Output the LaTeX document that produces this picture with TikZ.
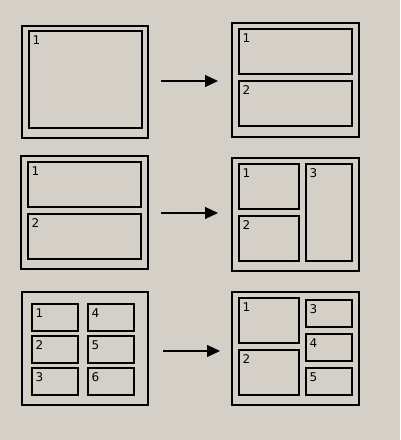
\documentclass[tikz,border=0pt]{standalone}
\usepackage{fontspec}
\setmainfont{DejaVu Sans}
\usepackage{xcolor}
\usetikzlibrary{arrows.meta}
\definecolor{winbg}{HTML}{D4D0C8}

% pane: name, x1, y1, x2, y2, label
\newcommand\pane[6]{%
  \node[frame, minimum width={#4-#2}, minimum height={#5-#3}] (#1) at ({(#2+#4)/2},{(#3+#5)/2}) {};
  \node[num] (#1-n) at (#1.north west) {#6};}

\begin{document}
\begin{tikzpicture}[x=1pt, y=-1pt,
    frame/.style={draw, line width=1.4pt, inner sep=0pt, outer sep=0pt},
    num/.style={anchor=north west, inner xsep=3.5pt, inner ysep=4.5pt, font=\fontsize{12}{14}\selectfont},
    arr/.style={line width=1.2pt, -{Triangle[length=13pt,width=12pt]}}]

    \fill[winbg] (0,0) rectangle (400,440);
    \useasboundingbox (0,0) rectangle (400,440);

    % row 1
    \pane{r1a}{22}{26}{148}{138}{}
    \pane{r1a1}{29}{31}{142}{128}{1}

    \pane{r1b}{232}{23}{359}{137}{}
    \pane{r1b1}{239}{29}{352}{74}{1}
    \pane{r1b2}{239}{81}{352}{126}{2}

    % row 2
    \pane{r2a}{21}{156}{148}{269}{}
    \pane{r2a1}{28}{162}{141}{207}{1}
    \pane{r2a2}{28}{214}{141}{259}{2}

    \pane{r2b}{232}{158}{359}{271}{}
    \pane{r2b1}{239}{164}{299}{209}{1}
    \pane{r2b2}{239}{216}{299}{261}{2}
    \pane{r2b3}{306}{164}{352}{261}{3}

    % row 3
    \pane{r3a}{22}{292}{148}{405}{}
    \foreach \i/\y in {1/304, 2/336, 3/368} {
        \pane{r3a\i}{32}{\y}{78}{\y+27}{\i}
    }
    \foreach \i/\y in {4/304, 5/336, 6/368} {
        \pane{r3a\i}{88}{\y}{134}{\y+27}{\i}
    }

    \pane{r3b}{232}{292}{359}{405}{}
    \pane{r3b1}{239}{298}{299}{343}{1}
    \pane{r3b2}{239}{350}{299}{395}{2}
    \pane{r3b3}{306}{300}{352}{327}{3}
    \pane{r3b4}{306}{334}{352}{361}{4}
    \pane{r3b5}{306}{368}{352}{395}{5}

    % arrows
    \coordinate (s1) at (161,81);  \coordinate (e1) at (218,81);
    \coordinate (s2) at (161,213); \coordinate (e2) at (218,213);
    \coordinate (s3) at (163,351); \coordinate (e3) at (220,351);
    \foreach \k in {1,2,3} {
        \draw[arr] (s\k) -- (e\k);
    }
\end{tikzpicture}
\end{document}
